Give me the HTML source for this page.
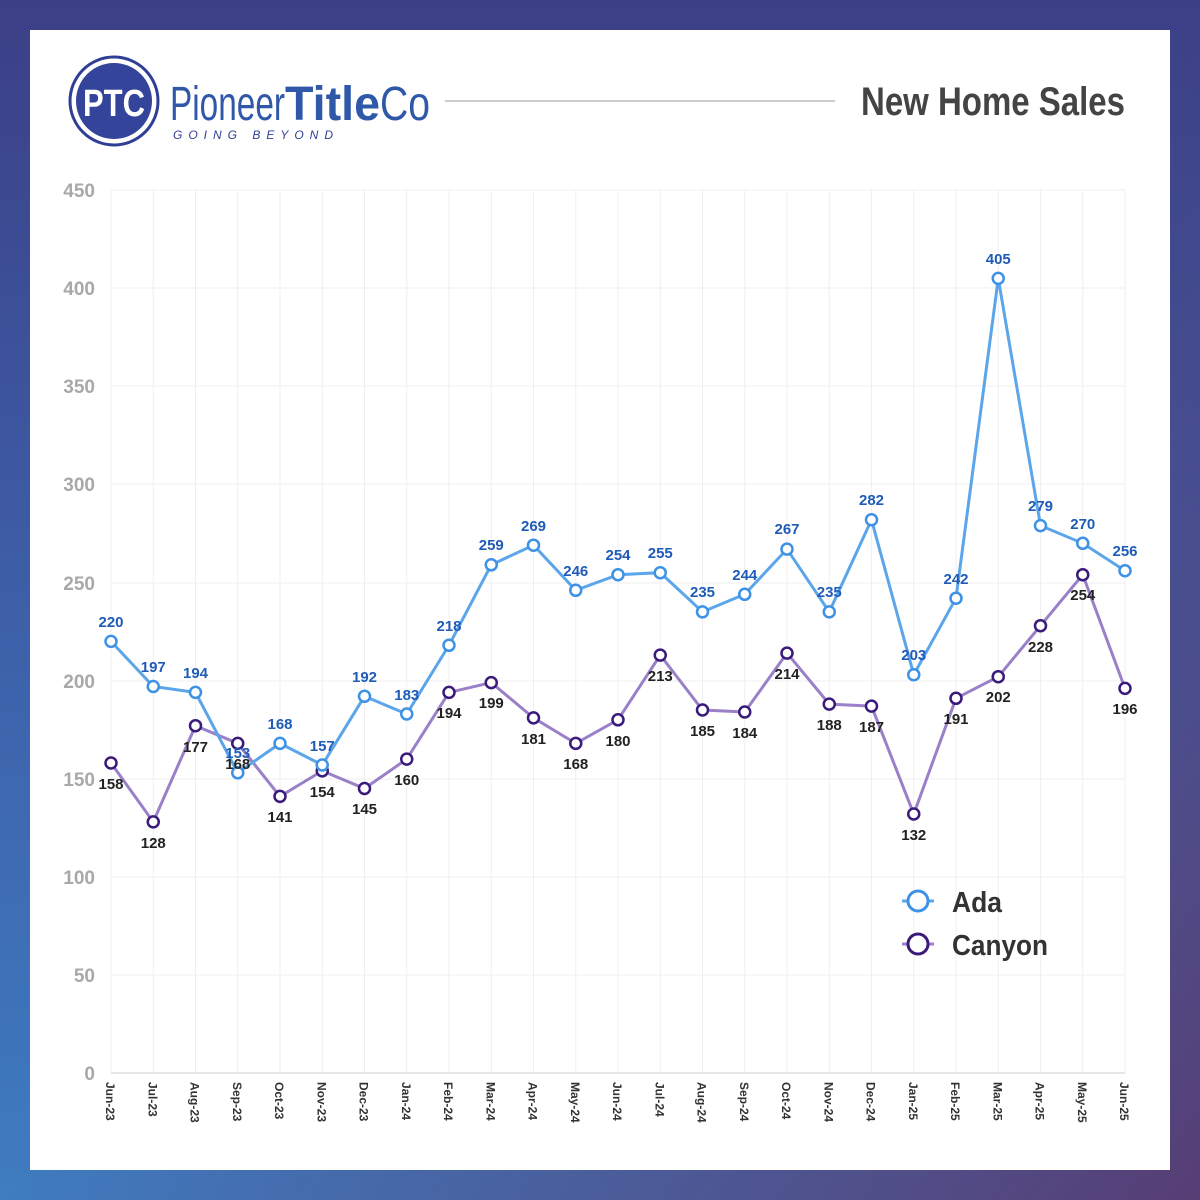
<!DOCTYPE html>
<html><head><meta charset="utf-8"><style>
html,body{margin:0;padding:0;width:1200px;height:1200px;overflow:hidden}
body{background:linear-gradient(135deg,rgba(60,60,128,0) 50%,rgba(88,58,112,0.95) 100%),linear-gradient(to bottom,#3c3f86 0%,#3d5fa8 50%,#3f7cc0 100%)}
.p{position:absolute;left:30px;top:30px;width:1140px;height:1140px;background:#fff}
svg{position:absolute;left:0;top:0}
text{font-family:"Liberation Sans",sans-serif;font-weight:bold}
</style></head><body>
<div class="p"></div>
<svg width="1200" height="1200" viewBox="0 0 1200 1200">
<circle cx="114" cy="101" r="44" fill="#fff" stroke="#2f3f95" stroke-width="3"/>
<circle cx="114" cy="101" r="38" fill="#33449a"/>
<text x="114" y="116" font-size="38" fill="#fff" text-anchor="middle" textLength="62" lengthAdjust="spacingAndGlyphs">PTC</text>
<text x="170" y="120" font-size="48" fill="#2f58a8" style="font-weight:normal" textLength="115" lengthAdjust="spacingAndGlyphs">Pioneer</text>
<text x="285" y="120" font-size="48" fill="#2f58a8" textLength="95" lengthAdjust="spacingAndGlyphs">Title</text>
<text x="380" y="120" font-size="48" fill="#2f58a8" style="font-weight:normal" textLength="50" lengthAdjust="spacingAndGlyphs">Co</text>
<text x="173" y="139" font-size="12" fill="#2f3f95" style="font-weight:normal;font-style:italic;letter-spacing:6px">GOING BEYOND</text>
<line x1="445" y1="101" x2="835" y2="101" stroke="#ccc" stroke-width="2"/>
<text x="1125" y="115" font-size="40" fill="#444" text-anchor="end" textLength="264" lengthAdjust="spacingAndGlyphs">New Home Sales</text>
<g stroke="#efefef" stroke-width="1">
<line x1="111" y1="190" x2="1125" y2="190"/><line x1="111" y1="288" x2="1125" y2="288"/><line x1="111" y1="386" x2="1125" y2="386"/><line x1="111" y1="484" x2="1125" y2="484"/><line x1="111" y1="583" x2="1125" y2="583"/><line x1="111" y1="681" x2="1125" y2="681"/><line x1="111" y1="779" x2="1125" y2="779"/><line x1="111" y1="877" x2="1125" y2="877"/><line x1="111" y1="975" x2="1125" y2="975"/>
<line x1="111" y1="190" x2="111" y2="1073"/><line x1="153.25" y1="190" x2="153.25" y2="1073"/><line x1="195.5" y1="190" x2="195.5" y2="1073"/><line x1="237.75" y1="190" x2="237.75" y2="1073"/><line x1="280" y1="190" x2="280" y2="1073"/><line x1="322.25" y1="190" x2="322.25" y2="1073"/><line x1="364.5" y1="190" x2="364.5" y2="1073"/><line x1="406.75" y1="190" x2="406.75" y2="1073"/><line x1="449" y1="190" x2="449" y2="1073"/><line x1="491.25" y1="190" x2="491.25" y2="1073"/><line x1="533.5" y1="190" x2="533.5" y2="1073"/><line x1="575.75" y1="190" x2="575.75" y2="1073"/><line x1="618" y1="190" x2="618" y2="1073"/><line x1="660.25" y1="190" x2="660.25" y2="1073"/><line x1="702.5" y1="190" x2="702.5" y2="1073"/><line x1="744.75" y1="190" x2="744.75" y2="1073"/><line x1="787" y1="190" x2="787" y2="1073"/><line x1="829.25" y1="190" x2="829.25" y2="1073"/><line x1="871.5" y1="190" x2="871.5" y2="1073"/><line x1="913.75" y1="190" x2="913.75" y2="1073"/><line x1="956" y1="190" x2="956" y2="1073"/><line x1="998.25" y1="190" x2="998.25" y2="1073"/><line x1="1040.5" y1="190" x2="1040.5" y2="1073"/><line x1="1082.75" y1="190" x2="1082.75" y2="1073"/><line x1="1125" y1="190" x2="1125" y2="1073"/>
</g>
<line x1="111" y1="1073" x2="1125" y2="1073" stroke="#ddd" stroke-width="1.5"/>
<g font-size="19" fill="#a8a8a8" text-anchor="end">
<text x="95" y="197">450</text><text x="95" y="295">400</text><text x="95" y="393">350</text><text x="95" y="491">300</text><text x="95" y="590">250</text><text x="95" y="688">200</text><text x="95" y="786">150</text><text x="95" y="884">100</text><text x="95" y="982">50</text><text x="95" y="1080">0</text>
</g>
<g font-size="12" fill="#333">
<text transform="translate(106,1082) rotate(90)">Jun-23</text><text transform="translate(148.25,1082) rotate(90)">Jul-23</text><text transform="translate(190.5,1082) rotate(90)">Aug-23</text><text transform="translate(232.75,1082) rotate(90)">Sep-23</text><text transform="translate(275,1082) rotate(90)">Oct-23</text><text transform="translate(317.25,1082) rotate(90)">Nov-23</text><text transform="translate(359.5,1082) rotate(90)">Dec-23</text><text transform="translate(401.75,1082) rotate(90)">Jan-24</text><text transform="translate(444,1082) rotate(90)">Feb-24</text><text transform="translate(486.25,1082) rotate(90)">Mar-24</text><text transform="translate(528.5,1082) rotate(90)">Apr-24</text><text transform="translate(570.75,1082) rotate(90)">May-24</text><text transform="translate(613,1082) rotate(90)">Jun-24</text><text transform="translate(655.25,1082) rotate(90)">Jul-24</text><text transform="translate(697.5,1082) rotate(90)">Aug-24</text><text transform="translate(739.75,1082) rotate(90)">Sep-24</text><text transform="translate(782,1082) rotate(90)">Oct-24</text><text transform="translate(824.25,1082) rotate(90)">Nov-24</text><text transform="translate(866.5,1082) rotate(90)">Dec-24</text><text transform="translate(908.75,1082) rotate(90)">Jan-25</text><text transform="translate(951,1082) rotate(90)">Feb-25</text><text transform="translate(993.25,1082) rotate(90)">Mar-25</text><text transform="translate(1035.5,1082) rotate(90)">Apr-25</text><text transform="translate(1077.75,1082) rotate(90)">May-25</text><text transform="translate(1120,1082) rotate(90)">Jun-25</text>
</g>
<polyline fill="none" stroke="#9a80c8" stroke-width="3" points="111,763 153.25,821.9 195.5,725.7 237.75,743.4 280,796.4 322.25,770.9 364.5,788.5 406.75,759.1 449,692.4 491.25,682.6 533.5,717.9 575.75,743.4 618,719.8 660.25,655.1 702.5,710 744.75,712 787,653.1 829.25,704.1 871.5,706.1 913.75,814 956,698.3 998.25,676.7 1040.5,625.7 1082.75,574.7 1125,688.4"/>
<polyline fill="none" stroke="#5ba5ea" stroke-width="3" points="111,641.4 153.25,686.5 195.5,692.4 237.75,772.8 280,743.4 322.25,765 364.5,696.3 406.75,714 449,645.3 491.25,564.8 533.5,545.2 575.75,590.3 618,574.7 660.25,572.7 702.5,611.9 744.75,594.3 787,549.1 829.25,611.9 871.5,519.7 913.75,674.7 956,598.2 998.25,278.4 1040.5,525.6 1082.75,543.3 1125,570.7"/>
<g fill="#fff" stroke="#3a1a7a" stroke-width="2.5">
<circle cx="111" cy="763" r="5.5"/><circle cx="153.25" cy="821.9" r="5.5"/><circle cx="195.5" cy="725.7" r="5.5"/><circle cx="237.75" cy="743.4" r="5.5"/><circle cx="280" cy="796.4" r="5.5"/><circle cx="322.25" cy="770.9" r="5.5"/><circle cx="364.5" cy="788.5" r="5.5"/><circle cx="406.75" cy="759.1" r="5.5"/><circle cx="449" cy="692.4" r="5.5"/><circle cx="491.25" cy="682.6" r="5.5"/><circle cx="533.5" cy="717.9" r="5.5"/><circle cx="575.75" cy="743.4" r="5.5"/><circle cx="618" cy="719.8" r="5.5"/><circle cx="660.25" cy="655.1" r="5.5"/><circle cx="702.5" cy="710" r="5.5"/><circle cx="744.75" cy="712" r="5.5"/><circle cx="787" cy="653.1" r="5.5"/><circle cx="829.25" cy="704.1" r="5.5"/><circle cx="871.5" cy="706.1" r="5.5"/><circle cx="913.75" cy="814" r="5.5"/><circle cx="956" cy="698.3" r="5.5"/><circle cx="998.25" cy="676.7" r="5.5"/><circle cx="1040.5" cy="625.7" r="5.5"/><circle cx="1082.75" cy="574.7" r="5.5"/><circle cx="1125" cy="688.4" r="5.5"/>
</g>
<g fill="#fff" stroke="#3d92e6" stroke-width="2.5">
<circle cx="111" cy="641.4" r="5.5"/><circle cx="153.25" cy="686.5" r="5.5"/><circle cx="195.5" cy="692.4" r="5.5"/><circle cx="237.75" cy="772.8" r="5.5"/><circle cx="280" cy="743.4" r="5.5"/><circle cx="322.25" cy="765" r="5.5"/><circle cx="364.5" cy="696.3" r="5.5"/><circle cx="406.75" cy="714" r="5.5"/><circle cx="449" cy="645.3" r="5.5"/><circle cx="491.25" cy="564.8" r="5.5"/><circle cx="533.5" cy="545.2" r="5.5"/><circle cx="575.75" cy="590.3" r="5.5"/><circle cx="618" cy="574.7" r="5.5"/><circle cx="660.25" cy="572.7" r="5.5"/><circle cx="702.5" cy="611.9" r="5.5"/><circle cx="744.75" cy="594.3" r="5.5"/><circle cx="787" cy="549.1" r="5.5"/><circle cx="829.25" cy="611.9" r="5.5"/><circle cx="871.5" cy="519.7" r="5.5"/><circle cx="913.75" cy="674.7" r="5.5"/><circle cx="956" cy="598.2" r="5.5"/><circle cx="998.25" cy="278.4" r="5.5"/><circle cx="1040.5" cy="525.6" r="5.5"/><circle cx="1082.75" cy="543.3" r="5.5"/><circle cx="1125" cy="570.7" r="5.5"/>
</g>
<g font-size="15" fill="#1f5bb8" text-anchor="middle">
<text x="111" y="627">220</text><text x="153.25" y="672">197</text><text x="195.5" y="678">194</text><text x="237.75" y="758">153</text><text x="280" y="729">168</text><text x="322.25" y="751">157</text><text x="364.5" y="682">192</text><text x="406.75" y="700">183</text><text x="449" y="631">218</text><text x="491.25" y="550">259</text><text x="533.5" y="531">269</text><text x="575.75" y="576">246</text><text x="618" y="560">254</text><text x="660.25" y="558">255</text><text x="702.5" y="597">235</text><text x="744.75" y="580">244</text><text x="787" y="534">267</text><text x="829.25" y="597">235</text><text x="871.5" y="505">282</text><text x="913.75" y="660">203</text><text x="956" y="584">242</text><text x="998.25" y="264">405</text><text x="1040.5" y="511">279</text><text x="1082.75" y="529">270</text><text x="1125" y="556">256</text>
</g>
<g font-size="15" fill="#222" text-anchor="middle">
<text x="111" y="789">158</text><text x="153.25" y="848">128</text><text x="195.5" y="752">177</text><text x="237.75" y="769">168</text><text x="280" y="822">141</text><text x="322.25" y="797">154</text><text x="364.5" y="814">145</text><text x="406.75" y="785">160</text><text x="449" y="718">194</text><text x="491.25" y="708">199</text><text x="533.5" y="744">181</text><text x="575.75" y="769">168</text><text x="618" y="746">180</text><text x="660.25" y="681">213</text><text x="702.5" y="736">185</text><text x="744.75" y="738">184</text><text x="787" y="679">214</text><text x="829.25" y="730">188</text><text x="871.5" y="732">187</text><text x="913.75" y="840">132</text><text x="956" y="724">191</text><text x="998.25" y="702">202</text><text x="1040.5" y="652">228</text><text x="1082.75" y="600">254</text><text x="1125" y="714">196</text>
</g>
<line x1="902" y1="901" x2="934" y2="901" stroke="#5ba5ea" stroke-width="3"/>
<circle cx="918" cy="901" r="10" fill="#fff" stroke="#3d92e6" stroke-width="3"/>
<text x="952" y="912" font-size="29" fill="#333" textLength="50" lengthAdjust="spacingAndGlyphs">Ada</text>
<line x1="902" y1="944" x2="934" y2="944" stroke="#9a80c8" stroke-width="3"/>
<circle cx="918" cy="944" r="10" fill="#fff" stroke="#3a1a7a" stroke-width="3"/>
<text x="952" y="955" font-size="29" fill="#333" textLength="96" lengthAdjust="spacingAndGlyphs">Canyon</text>
</svg>
</body></html>
